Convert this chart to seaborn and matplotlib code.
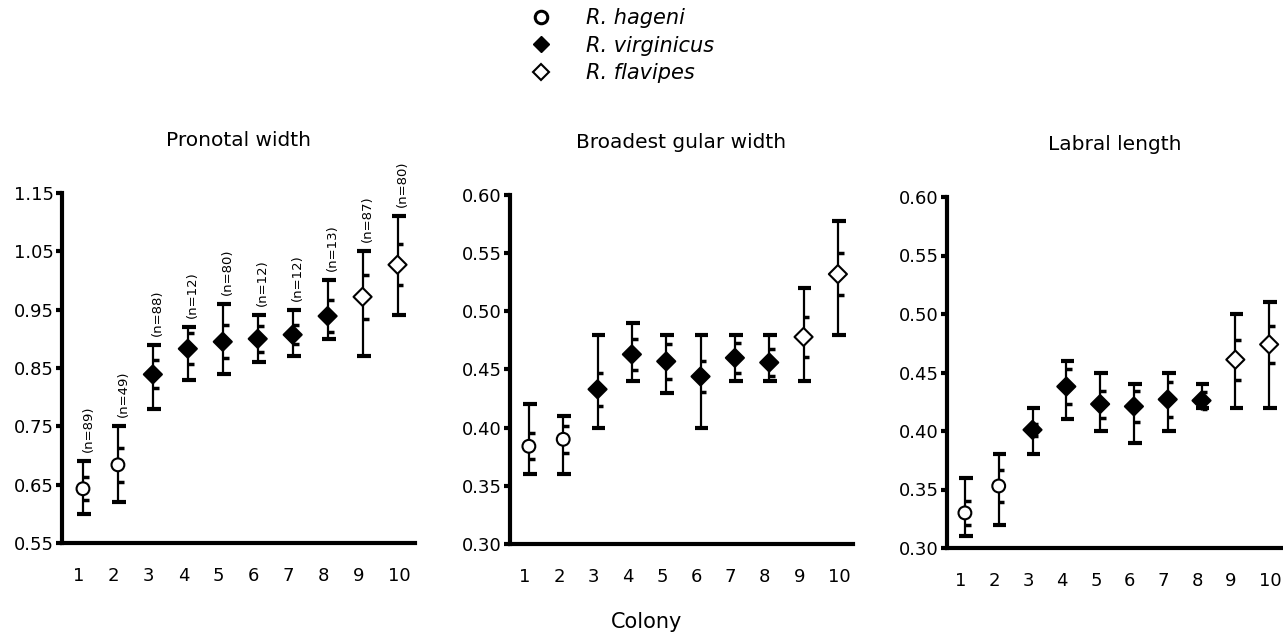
import numpy as np
import pandas as pd
import matplotlib
matplotlib.use("Agg")
import matplotlib.pyplot as plt
import matplotlib.transforms as mtransforms
from matplotlib.lines import Line2D
import seaborn as sns

# ---------------- data ----------------
colony = [1, 2, 3, 4, 5, 6, 7, 8, 9, 10]
species = ["R. hageni"] * 2 + ["R. virginicus"] * 6 + ["R. flavipes"] * 2
n_sizes = [89, 49, 88, 12, 80, 12, 12, 13, 87, 80]

pronotal_mean = [0.643, 0.684, 0.839, 0.883, 0.895, 0.900, 0.907, 0.939, 0.972, 1.027]
pronotal_min = [0.60, 0.62, 0.78, 0.83, 0.84, 0.86, 0.87, 0.90, 0.87, 0.94]
pronotal_max = [0.69, 0.75, 0.89, 0.92, 0.96, 0.94, 0.95, 1.00, 1.05, 1.11]
pronotal_sd = [0.020, 0.029, 0.024, 0.027, 0.028, 0.022, 0.016, 0.028, 0.038, 0.035]

gular_mean = [0.384, 0.390, 0.433, 0.463, 0.457, 0.444, 0.460, 0.456, 0.478, 0.532]
gular_min = [0.36, 0.36, 0.40, 0.44, 0.43, 0.40, 0.44, 0.44, 0.44, 0.48]
gular_max = [0.42, 0.41, 0.48, 0.49, 0.48, 0.48, 0.48, 0.48, 0.52, 0.578]
gular_sd = [0.011, 0.0115, 0.014, 0.0135, 0.015, 0.0135, 0.013, 0.0115, 0.0175, 0.018]

labral_mean = [0.330, 0.353, 0.401, 0.438, 0.423, 0.421, 0.427, 0.426, 0.461, 0.474]
labral_min = [0.31, 0.32, 0.38, 0.41, 0.40, 0.39, 0.40, 0.42, 0.42, 0.42]
labral_max = [0.36, 0.38, 0.42, 0.46, 0.45, 0.44, 0.45, 0.44, 0.50, 0.51]
labral_sd = [0.0105, 0.014, 0.005, 0.015, 0.0115, 0.013, 0.015, 0.0075, 0.017, 0.016]

titles = ["Pronotal width", "Broadest gular width", "Labral length"]
pronotal_ticks = [0.55, 0.65, 0.75, 0.85, 0.95, 1.05, 1.15]
small_ticks = [0.30, 0.35, 0.40, 0.45, 0.50, 0.55, 0.60]

species_order = ["R. hageni", "R. virginicus", "R. flavipes"]
# ---------------------------------------

sns.set_theme(style="ticks")
plt.rcParams["font.family"] = ["DejaVu Sans"]
plt.rcParams["text.color"] = "black"
plt.rcParams["axes.titlecolor"] = "black"
plt.rcParams["xtick.color"] = "black"
plt.rcParams["ytick.color"] = "black"
plt.rcParams["legend.labelcolor"] = "black"

W, H = 1283, 639
fig = plt.figure(figsize=(W / 100, H / 100), dpi=100)

# axes boxes in pixels: left, right, top, bottom
boxes = [(62, 415, 193, 543), (510, 853, 195, 544), (947, 1283, 197, 548)]
xlims = [(0.4, 10.5), (0.45, 10.44), (0.47, 10.41)]

panels = [
    (pronotal_mean, pronotal_min, pronotal_max, pronotal_sd, pronotal_ticks),
    (gular_mean, gular_min, gular_max, gular_sd, small_ticks),
    (labral_mean, labral_min, labral_max, labral_sd, small_ticks),
]

palette = {"R. hageni": "white", "R. virginicus": "black", "R. flavipes": "white"}
markers = {"R. hageni": "o", "R. virginicus": "D", "R. flavipes": "D"}

for i, ((mean, mn, mx, sd, yt), box, xl, title) in enumerate(zip(panels, boxes, xlims, titles)):
    l, r, t, b = box
    ax = fig.add_axes([l / W, 1 - b / H, (r - l) / W, (b - t) / H])
    df = pd.DataFrame({"colony": colony, "species": species, "mean": mean,
                       "min": mn, "max": mx, "sd": sd})
    x = df["colony"].to_numpy(dtype=float)
    # range lines
    ax.vlines(x, df["min"], df["max"], color="black", lw=1.6, zorder=1)
    # range caps (slightly offset to right, as in original)
    ax.hlines(df["min"], x - 0.17, x + 0.23, color="black", lw=3, zorder=1)
    ax.hlines(df["max"], x - 0.17, x + 0.23, color="black", lw=3, zorder=1)
    # sd ticks on right side
    ax.hlines(df["mean"] + df["sd"], x, x + 0.17, color="black", lw=2.5, zorder=1)
    ax.hlines(df["mean"] - df["sd"], x, x + 0.17, color="black", lw=2.5, zorder=1)
    # means
    sns.scatterplot(data=df, x="colony", y="mean", hue="species", style="species",
                    hue_order=species_order, style_order=species_order,
                    palette=palette, markers=markers, s=85, edgecolor="black",
                    linewidth=1.5, legend=False, ax=ax, zorder=3)
    ax.set_xlim(*xl)
    ax.set_ylim(yt[0], yt[-1])
    ax.set_yticks(yt)
    ax.set_yticklabels([f"{v:.2f}" for v in yt], fontsize=13)
    ax.set_xticks(colony)
    ax.set_xticklabels([str(c) for c in colony], fontsize=13)
    ax.set_xlabel("")
    ax.set_ylabel("")
    ax.set_title(title, fontsize=14.5, pad=34, color="black")
    sns.despine(ax=ax)
    for sp in ["left", "bottom"]:
        ax.spines[sp].set_linewidth(3)
        ax.spines[sp].set_color("black")
    ax.tick_params(axis="y", length=4, width=3, pad=2, colors="black")
    ax.tick_params(axis="x", length=0, pad=17, colors="black")
    offset = mtransforms.ScaledTranslation(-0.10, 0, fig.dpi_scale_trans)
    for lab in ax.get_xticklabels():
        lab.set_ha("left")
        lab.set_transform(lab.get_transform() + offset)
    ax.set_facecolor("white")
    ax.patch.set_alpha(0)
    if i == 0:
        for xc, top, n in zip(x, df["max"], n_sizes):
            ax.annotate(f"(n={n})", xy=(xc, top), xytext=(3.6, 6.5),
                        textcoords="offset points", rotation=90,
                        ha="center", va="bottom", fontsize=9.5, color="black",
                        annotation_clip=False)

fig.text(647 / W, 1 - 622 / H, "Colony", ha="center", va="center", fontsize=15,
         color="black")

handles = [
    Line2D([], [], ls="none", marker="o", markersize=9, markerfacecolor="white",
           markeredgecolor="black", markeredgewidth=2.2),
    Line2D([], [], ls="none", marker="D", markersize=8, markerfacecolor="black",
           markeredgecolor="black"),
    Line2D([], [], ls="none", marker="D", markersize=8, markerfacecolor="white",
           markeredgecolor="black", markeredgewidth=1.5),
]
fig.legend(handles, species_order, loc="upper left",
           bbox_to_anchor=(531 / W, 1 - 8 / H), frameon=False,
           prop={"style": "italic", "size": 15}, handlelength=1.0,
           handletextpad=1.66, borderpad=0, borderaxespad=0, labelspacing=0.37,
           labelcolor="black")

fig.savefig("out.png", dpi=100, facecolor="white")
